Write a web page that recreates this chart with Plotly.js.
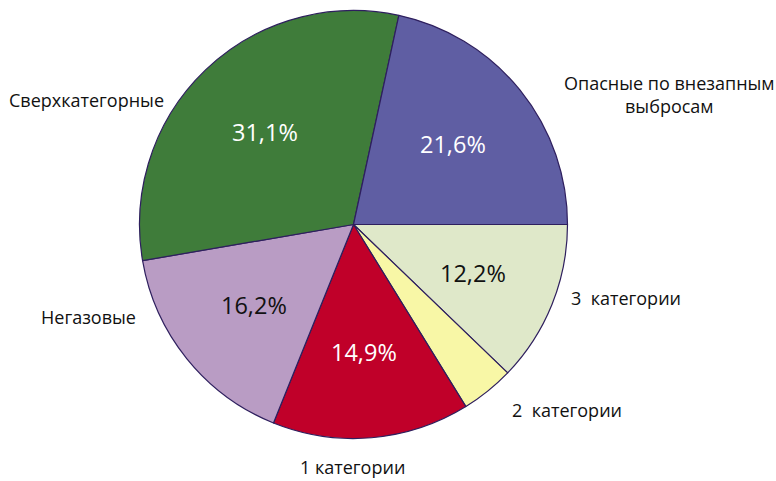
<!DOCTYPE html>
<html><head><meta charset="utf-8">
<script src="https://cdn.plot.ly/plotly-3.0.1.min.js"></script>
<style>body{margin:0;background:#fff}</style>
</head><body><div id="chart" style="width:776px;height:481px"></div>
<script>
// Slices listed counterclockwise starting from 3 o'clock
var categories = ["Опасные по внезапным выбросам","Сверхкатегорные","Негазовые","1 категории","2 категории","3 категории"];
var values = [21.6, 31.1, 16.2, 14.9, 4.0, 12.2];
var pctLabels = ["21,6%","31,1%","16,2%","14,9%","","12,2%"];
var outsideLabels = ["Опасные по внезапным<br>выбросам","Сверхкатегорные","Негазовые","1 категории","2\u00a0\u00a0категории","3\u00a0\u00a0категории"];
var colors = ["#5f5ea3","#3f7c3a","#b99cc4","#c00029","#f8f7a6","#dfe8c9"];
var textColors = ["#ffffff","#ffffff","#111111","#ffffff","#111111","#111111"];

var W = 776, H = 481;
var cx = 353.5, cy = 224.5, R = 214;
var dom = {x:[(cx-R)/W,(cx+R)/W], y:[1-(cy+R)/H, 1-(cy-R)/H]};

// outside label anchor positions in pixels
var outPos = [[669,94],[86,100],[88,317],[352,467],[567,410],[626,298]];

var total = values.reduce(function(a,b){return a+b;},0);
var ann = [];
var cum = 0;
for (var i=0;i<values.length;i++){
  var mid = (cum + values[i]/2)/total*2*Math.PI;
  cum += values[i];
  if (pctLabels[i]) {
    var px = cx + 0.6*R*Math.cos(mid), py = cy - 0.6*R*Math.sin(mid);
    ann.push({x:px/W, y:1-py/H, xref:'paper', yref:'paper', xanchor:'center', yanchor:'middle',
      text:pctLabels[i], showarrow:false,
      font:{family:'Open Sans, Noto Sans, sans-serif', size:23.5, color:textColors[i]}});
  }
  ann.push({x:outPos[i][0]/W, y:1-outPos[i][1]/H, xref:'paper', yref:'paper', xanchor:'center', yanchor:'middle',
    text:outsideLabels[i], showarrow:false,
    font:{family:'Open Sans, Noto Sans, sans-serif', size:18, color:'#111111'}});
}

// plot clockwise from 3 o'clock with reversed order => same as counterclockwise order above
var rev = function(a){return a.slice().reverse();};
var data = [{
  type:'pie', labels:rev(categories), values:rev(values), sort:false,
  direction:'clockwise', rotation:90,
  marker:{colors:rev(colors), line:{color:'#2e1f5e', width:1.2}},
  textinfo:'none', hoverinfo:'label+percent', domain:dom, showlegend:false
}];
var layout = {width:W, height:H, margin:{l:0,r:0,t:0,b:0}, paper_bgcolor:'#fff', showlegend:false, annotations:ann};
Plotly.newPlot('chart', data, layout, {displayModeBar:false, staticPlot:true});
</script></body></html>
